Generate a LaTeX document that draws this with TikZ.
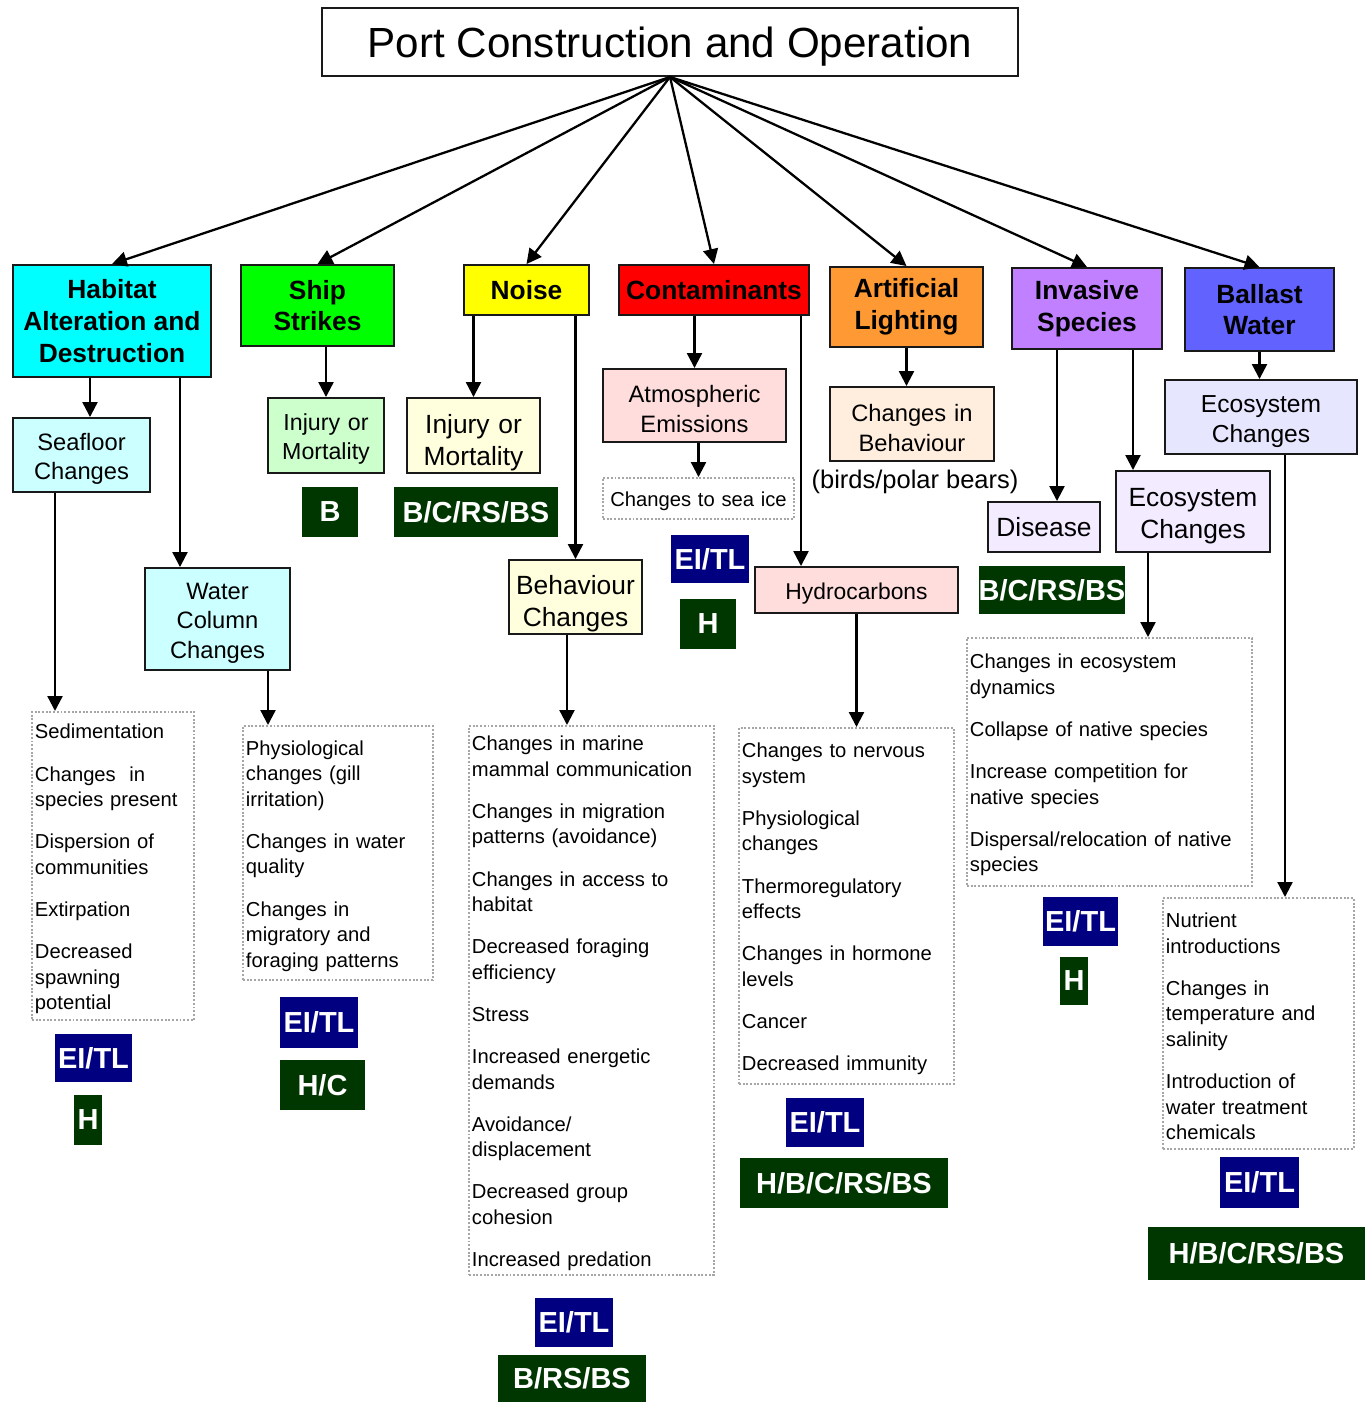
\documentclass[tikz,border=0pt]{standalone}
\usepackage{fontspec}
\setmainfont{Liberation Sans}
\usetikzlibrary{arrows.meta}
\usepackage{xcolor}

\definecolor{habcol}{RGB}{0,255,255}
\definecolor{shipcol}{RGB}{0,255,0}
\definecolor{noisecol}{RGB}{255,255,0}
\definecolor{contcol}{RGB}{255,0,0}
\definecolor{lightcol}{RGB}{255,153,51}
\definecolor{invcol}{RGB}{192,128,255}
\definecolor{ballcol}{RGB}{98,98,255}
\definecolor{habsub}{RGB}{204,255,255}
\definecolor{shipsub}{RGB}{204,255,204}
\definecolor{noisesub}{RGB}{255,255,221}
\definecolor{contsub}{RGB}{255,221,221}
\definecolor{lightsub}{RGB}{255,238,221}
\definecolor{invsub}{RGB}{243,235,255}
\definecolor{ballsub}{RGB}{230,230,255}
\definecolor{tlblue}{RGB}{0,0,128}
\definecolor{recgreen}{RGB}{0,54,0}

\newcommand{\itemgap}{\\[9.5pt]}

\tikzset{
  cat/.style={draw=black!90, line width=1.1pt, align=center, inner sep=0pt,
    font=\bfseries\fontsize{15}{18}\selectfont},
  pbox/.style={draw=black!90, line width=1.1pt, align=center, inner sep=0pt,
    font=\fontsize{13.5}{17}\selectfont},
  sub/.style={pbox, execute at begin node=\rule{0pt}{1.05em}},
  subbig/.style={pbox, font=\fontsize{15}{18}\selectfont, execute at begin node=\rule{0pt}{1.25em}},
  effects/.style={draw=gray!70, densely dotted, line width=1.1pt, anchor=north west,
    align=left, inner xsep=0.06cm, inner ysep=0pt,
    font=\fontsize{11.5}{14.5}\selectfont, execute at begin node=\rule{0pt}{11.8pt}},
  badge/.style={text=white, inner sep=0pt, font=\bfseries\fontsize{16.5}{19}\selectfont},
  arr/.style={line width=1.3pt, -{Triangle[length=8.5pt,width=8.5pt]}},
  sz/.style 2 args={minimum width=#1*0.02cm, minimum height=#2*0.02cm},
  tsz/.style 2 args={sz={#1}{#2}, text width=#1*0.02cm},
}

\begin{document}
\begin{tikzpicture}[x=0.02cm, y=-0.02cm]
  \useasboundingbox (0,0) rectangle (1369,1403);

  % title
  \node[draw=black!90, line width=1.1pt, sz={696}{68}, font=\fontsize{24}{28}\selectfont,
    execute at begin node=\rule{0pt}{0.92em}]
    (title) at (670,42) {Port Construction and Operation};

  % stressors
  \node[cat, fill=habcol, sz={198}{112}] (hab) at (112,321) {Habitat\\Alteration and\\Destruction};
  \node[cat, fill=shipcol, sz={153}{81}] (ship) at (317.5,305.5) {Ship\\Strikes};
  \node[cat, fill=noisecol, sz={125}{50}] (noise) at (526.5,290) {Noise};
  \node[cat, fill=contcol, sz={190}{50}] (cont) at (714,290) {Contaminants};
  \node[cat, fill=lightcol, sz={153}{80}] (light) at (906.5,307) {Artificial\\Lighting};
  \node[cat, fill=invcol, sz={150}{81}] (inv) at (1087,308.5) {Invasive\\Species};
  \node[cat, fill=ballcol, sz={149}{83}] (ball) at (1259.5,309.5) {Ballast\\Water};

  \foreach \s in {hab, ship, noise, cont, light, inv, ball}
    \draw[arr] (title.south) -- (\s.north);

  % pathways
  \node[sub, fill=habsub, tsz={137}{74}] (sea) at (81.5,455) {Seafloor\\Changes};
  \node[sub, fill=habsub, tsz={145}{102}] (wcol) at (217.5,619) {Water\\Column\\Changes};
  \node[sub, fill=shipsub, tsz={116}{75}, font=\fontsize{13.2}{16.5}\selectfont] (injS) at (326,435.5) {Injury or\\Mortality};
  \node[subbig, fill=noisesub, tsz={133}{75}] (injN) at (473.5,435.5) {Injury or\\Mortality};
  \node[subbig, fill=noisesub, tsz={133}{74}] (beh) at (575.5,597) {Behaviour\\Changes};
  \node[sub, fill=contsub, tsz={183}{73}] (atm) at (694.5,405.5) {Atmospheric\\Emissions};
  \node[effects, anchor=center, align=center, inner xsep=0pt, tsz={191}{41}] (ice) at (698.5,498.5) {Changes to sea ice};
  \node[sub, fill=contsub, tsz={203}{46}, font=\fontsize{13}{16}\selectfont] (hyd) at (856.5,590) {Hydrocarbons};
  \node[sub, fill=lightsub, tsz={164}{74}] (cbeh) at (912,424) {Changes in\\Behaviour};
  \node[font=\fontsize{14.5}{17}\selectfont] (birds) at (915,482) {(birds/polar bears)};
  \node[pbox, fill=invsub, sz={112}{50}, font=\fontsize{15}{18}\selectfont] (dis) at (1044,527) {Disease};
  \node[sub, fill=invsub, tsz={154}{81}, font=\fontsize{15}{18}\selectfont] (ecoI) at (1193,511.5) {Ecosystem\\Changes};
  \node[sub, fill=ballsub, tsz={192}{74}, font=\fontsize{14}{17}\selectfont] (ecoB) at (1261,417) {Ecosystem\\Changes};

  \draw[arr] (hab.south -| 90,0) -- (sea.north -| 90,0);
  \draw[arr] (hab.south -| 180,0) -- (wcol.north -| 180,0);
  \draw[arr] (ship.south -| injS.north) -- (injS.north);
  \draw[arr] (noise.south -| injN.north) -- (injN.north);
  \draw[arr] (noise.south -| beh.north) -- (beh.north);
  \draw[arr] (cont.south -| atm.north) -- (atm.north);
  \draw[arr] (atm.south -| ice.north) -- (ice.north);
  \draw[arr] (cont.south -| 801,0) -- (hyd.north -| 801,0);
  \draw[arr] (light.south) -- (light.south |- cbeh.north);
  \draw[arr] (inv.south -| 1057,0) -- (dis.north -| 1057,0);
  \draw[arr] (inv.south -| 1133,0) -- (ecoI.north -| 1133,0);
  \draw[arr] (ball.south) -- (ball.south |- ecoB.north);

  % effects
  \node[effects, text width=3.12cm, minimum height=6.16cm] (seaL) at (31,711)
    {Sedimentation\itemgap
     Changes\ \ in\\species present\itemgap
     Dispersion of\\communities\itemgap
     Extirpation\itemgap
     Decreased\\spawning\\potential};
  \node[effects, text width=3.68cm, minimum height=5.08cm] (wcolL) at (242,725)
    {Physiological\\changes (gill\\irritation)\itemgap
     Changes in water\\quality\itemgap
     Changes in\\migratory and\\foraging patterns};
  \node[effects, text width=4.78cm, minimum height=10.98cm] (behL) at (468,725)
    {Changes in marine\\mammal communication\itemgap
     Changes in migration\\patterns (avoidance)\itemgap
     Changes in access to\\habitat\itemgap
     Decreased foraging\\efficiency\itemgap
     Stress\itemgap
     Increased energetic\\demands\itemgap
     Avoidance/\\displacement\itemgap
     Decreased group\\cohesion\itemgap
     Increased predation};
  \node[effects, text width=4.18cm, minimum height=7.12cm] (hydL) at (738,727)
    {Changes to nervous\\system\itemgap
     Physiological\\changes\itemgap
     Thermoregulatory\\effects\itemgap
     Changes in hormone\\levels\itemgap
     Cancer\itemgap
     Decreased immunity};
  \node[effects, text width=5.58cm, minimum height=4.96cm] (invL) at (966,637)
    {Changes in ecosystem\\dynamics\itemgap
     Collapse of native species\itemgap
     Increase competition for\\native species\itemgap
     Dispersal/relocation of native\\species};
  \node[effects, text width=3.70cm, minimum height=5.02cm] (ballL) at (1162,897)
    {Nutrient\\introductions\itemgap
     Changes in\\temperature and\\salinity\itemgap
     Introduction of\\water treatment\\chemicals};

  \draw[arr] (sea.south -| 55,0) -- (seaL.north -| 55,0);
  \draw[arr] (wcol.south -| 268,0) -- (wcolL.north -| 268,0);
  \draw[arr] (beh.south -| 567,0) -- (behL.north -| 567,0);
  \draw[arr] (hyd.south) -- (hyd.south |- hydL.north);
  \draw[arr] (ecoI.south -| 1148,0) -- (invL.north -| 1148,0);
  \draw[arr] (ecoB.south -| 1285,0) -- (ballL.north -| 1285,0);

  % ratings
  \node[badge, fill=recgreen, sz={56}{50}] (shipR) at (330,512) {B};
  \node[badge, fill=recgreen, sz={164}{50}] (noiseR) at (476,512) {B/C/RS/BS};
  \node[badge, fill=tlblue, sz={78}{48}] (iceT) at (710,559) {EI/TL};
  \node[badge, fill=recgreen, sz={56}{50}] (iceR) at (708,624) {H};
  \node[badge, fill=recgreen, sz={146}{48}] (disR) at (1052,590) {B/C/RS/BS};
  \node[badge, fill=tlblue, sz={77}{48}] (seaT) at (93.5,1058) {EI/TL};
  \node[badge, fill=recgreen, sz={28}{50}] (seaR) at (88,1120) {H};
  \node[badge, fill=tlblue, sz={78}{51}] (wcolT) at (319,1022.5) {EI/TL};
  \node[badge, fill=recgreen, sz={85}{50}] (wcolR) at (322.5,1085) {H/C};
  \node[badge, fill=tlblue, sz={78}{49}] (behT) at (574,1322.5) {EI/TL};
  \node[badge, fill=recgreen, sz={148}{47}] (behR) at (572,1378.5) {B/RS/BS};
  \node[badge, fill=tlblue, sz={78}{49}] (hydT) at (825,1122.5) {EI/TL};
  \node[badge, fill=recgreen, sz={208}{50}] (hydR) at (844,1183) {H/B/C/RS/BS};
  \node[badge, fill=tlblue, sz={75}{49}] (invT) at (1080.5,921.5) {EI/TL};
  \node[badge, fill=recgreen, sz={28}{48}] (invR) at (1074,981) {H};
  \node[badge, fill=tlblue, sz={79}{51}] (ballT) at (1259.5,1182.5) {EI/TL};
  \node[badge, fill=recgreen, sz={217}{53}] (ballR) at (1256.5,1253.5) {H/B/C/RS/BS};
\end{tikzpicture}
\end{document}
